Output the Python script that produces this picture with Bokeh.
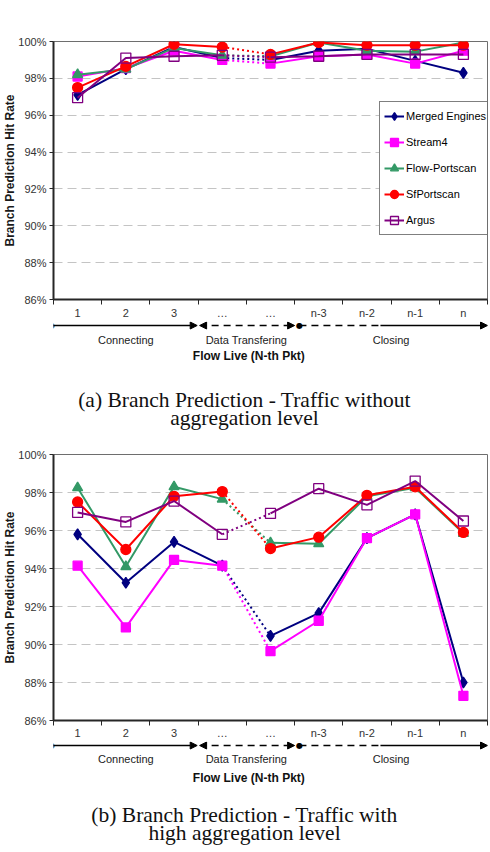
from bokeh.plotting import figure
from bokeh.layouts import column
from bokeh.models import (Range1d, FixedTicker, PrintfTickFormatter, Legend, LegendItem,
                          Label, Arrow, NormalHead)
from bokeh.core.properties import value
from bokeh.embed import file_html
from bokeh.resources import INLINE

# Packet positions along the life of a flow and their tick labels
positions = [1, 2, 3, 4, 5, 6, 7, 8, 9]
pkt_labels = ["1", "2", "3", "…", "…", "n-3", "n-2", "n-1", "n"]

# Flow phases and where their names sit on the packet axis
phases = ["Connecting", "Data Transfering", "Closing"]
phase_centers = [2, 4.5, 7.5]

y_ticks = [86, 88, 90, 92, 94, 96, 98, 100]

series_names = ["Merged Engines", "Stream4", "Flow-Portscan", "SfPortscan", "Argus"]

# (a) traffic without aggregation level -- branch prediction hit rate (%)
merged_a = [97.1, 98.5, 99.7, 99.1, 99.0, 99.5, 99.6, 98.95, 98.3]
stream4_a = [98.1, 98.55, 99.5, 99.0, 98.8, 99.2, 99.3, 98.8, 99.5]
flow_a = [98.2, 98.5, 99.65, 99.25, 99.2, 99.95, 99.5, 99.45, 99.95]
sf_a = [97.5, 98.65, 99.85, 99.7, 99.3, 99.95, 99.8, 99.8, 99.8]
argus_a = [96.95, 99.1, 99.2, 99.25, 99.15, 99.2, 99.3, 99.3, 99.3]

# (b) traffic with high aggregation level -- branch prediction hit rate (%)
merged_b = [95.8, 93.25, 95.4, 94.15, 90.45, 91.65, 95.6, 96.85, 88.0]
stream4_b = [94.15, 90.9, 94.45, 94.15, 89.65, 91.25, 95.6, 96.85, 87.3]
flow_b = [98.25, 94.1, 98.3, 97.65, 95.35, 95.3, 97.8, 98.25, 95.85]
sf_b = [97.5, 95.0, 97.8, 98.05, 95.05, 95.65, 97.85, 98.3, 95.9]
argus_b = [96.95, 96.45, 97.55, 95.8, 96.9, 98.2, 97.35, 98.6, 96.5]

caption_a = ["(a) Branch Prediction - Traffic without", "aggregation level"]
caption_b = ["(b) Branch Prediction - Traffic with", "high aggregation level"]

SANS = "Liberation Sans"
SERIF = "Liberation Serif"
AXIS_COLOR = "#262626"
FRAME_LEFT = 53
FRAME_RIGHT_PAD = 3

styles = [
    dict(color="#000080", marker="diamond", size=11, fill="#000080"),
    dict(color="#FF00FF", marker="square", size=9, fill="#FF00FF"),
    dict(color="#339966", marker="triangle", size=10, fill="#339966"),
    dict(color="#FF0000", marker="circle", size=10, fill="#FF0000"),
    dict(color="#800080", marker="square", size=10, fill=None),
]


def hit_rate_chart(series, height, frame_top, frame_h, label_standoff, with_legend):
    p = figure(width=490, height=height,
               x_range=Range1d(0.5, 9.5), y_range=Range1d(86, 100),
               min_border_left=FRAME_LEFT, min_border_right=FRAME_RIGHT_PAD,
               min_border_top=frame_top, min_border_bottom=height - frame_top - frame_h,
               output_backend="svg", toolbar_location=None, tools="")
    p.background_fill_color = "white"
    p.border_fill_color = "white"
    p.outline_line_color = "#6e6e6e"
    p.outline_line_width = 1

    p.xgrid.visible = False
    p.ygrid.ticker = FixedTicker(ticks=y_ticks[1:-1])
    p.ygrid.grid_line_color = "#c4c4c4"
    p.ygrid.grid_line_dash = "9 5"
    p.ygrid.grid_line_width = 1

    ya = p.yaxis[0]
    ya.ticker = FixedTicker(ticks=y_ticks)
    ya.formatter = PrintfTickFormatter(format="%d%%")
    ya.major_label_text_font = SANS
    ya.major_label_text_font_size = "11px"
    ya.major_label_text_color = "#333333"
    ya.major_label_standoff = 3
    ya.major_tick_out = 4
    ya.major_tick_in = 0
    ya.major_tick_line_color = AXIS_COLOR
    ya.minor_tick_line_color = None
    ya.axis_line_color = AXIS_COLOR
    ya.axis_line_width = 2
    ya.axis_label = "Branch Prediction Hit Rate"
    ya.axis_label_text_font = SANS
    ya.axis_label_text_font_style = "bold"
    ya.axis_label_text_font_size = "12px"
    ya.axis_label_text_color = "#1a1a1a"
    ya.axis_label_standoff = -2

    xa = p.xaxis[0]
    xa.ticker = FixedTicker(ticks=positions,
                            minor_ticks=[x - 0.5 for x in positions] + [positions[-1] + 0.5])
    xa.major_label_overrides = dict(zip(positions, pkt_labels))
    xa.major_label_text_font = SANS
    xa.major_label_text_font_size = "11px"
    xa.major_label_text_color = "#333333"
    xa.major_label_standoff = label_standoff
    xa.major_tick_line_color = None
    xa.major_tick_out = 0
    xa.major_tick_in = 0
    xa.minor_tick_out = 5
    xa.minor_tick_in = 0
    xa.minor_tick_line_color = AXIS_COLOR
    xa.axis_line_color = AXIS_COLOR
    xa.axis_line_width = 2

    items = []
    for name, ys, st in zip(series_names, series, styles):
        # connection phase solid, the gap over the transfer phase dotted, then solid again
        first = p.line(positions[:4], ys[:4], line_color=st["color"], line_width=2)
        p.line(positions[3:5], ys[3:5], line_color=st["color"], line_width=2, line_dash="2 3")
        p.line(positions[4:], ys[4:], line_color=st["color"], line_width=2)
        pts = p.scatter(positions, ys, marker=st["marker"], size=st["size"],
                        fill_color=st["fill"], line_color=st["color"], line_width=1.3)
        items.append(LegendItem(label=name, renderers=[first, pts]))

    if with_legend:
        frame_w = 490 - FRAME_LEFT - FRAME_RIGHT_PAD
        lg = Legend(items=items, location=(frame_w - 108, 64), orientation="vertical",
                    padding=4, margin=0, spacing=6, label_standoff=2,
                    glyph_width=20, glyph_height=20, label_height=20,
                    label_text_font=SANS, label_text_font_size="11px",
                    label_text_color="black",
                    border_line_color="black", border_line_width=1,
                    background_fill_color="white", background_fill_alpha=1)
        p.add_layout(lg)
    return p


def flow_timeline(chart, height, arrow_y, phase_y, title_y, cap_y, caption):
    t = figure(width=490, height=height,
               x_range=chart.x_range, y_range=Range1d(height, 0),
               min_border_left=FRAME_LEFT, min_border_right=FRAME_RIGHT_PAD,
               min_border_top=0, min_border_bottom=0,
               x_axis_type=None, y_axis_type=None,
               output_backend="svg", toolbar_location=None, tools="")
    t.outline_line_color = None
    t.background_fill_color = "white"
    t.border_fill_color = "white"

    def head():
        return NormalHead(size=7, fill_color="black", line_color="black", line_width=1)

    # connecting: solid arrow
    t.add_layout(Arrow(x_start=0.46, y_start=arrow_y, x_end=3.48, y_end=arrow_y,
                       start=None, end=head(), line_color="black", line_width=1.5))
    # data transfer: dashed double-headed arrow
    t.add_layout(Arrow(x_start=3.53, y_start=arrow_y, x_end=5.5, y_end=arrow_y,
                       start=head(), end=head(), line_color="black", line_width=1.5,
                       line_dash="7 5"))
    # closing: dashed, then solid arrow to the last packet
    t.line([5.6, 7.28], [arrow_y, arrow_y], line_color="black", line_width=1.5, line_dash="7 5")
    t.add_layout(Arrow(x_start=7.28, y_start=arrow_y, x_end=9.5, y_end=arrow_y,
                       start=None, end=head(), line_color="black", line_width=1.5))
    # start markers of the connecting and closing phases
    for dx in (0.46, 5.6):
        t.add_layout(Label(x=dx, y=arrow_y, text="●", text_font="DejaVu Sans",
                           text_font_size="8px", text_color="black",
                           text_align="center", text_baseline="middle"))

    t.text(x=phase_centers, y=[phase_y] * len(phases), text=phases,
           text_font=value(SANS), text_font_size="11px", text_color="#222222",
           text_align="center", text_baseline="middle")
    t.text(x=[4.55], y=[title_y], text=["Flow Live (N-th Pkt)"],
           text_font=value(SANS), text_font_size="12px", text_font_style="bold",
           text_color="#111111", text_align="center", text_baseline="middle")

    for line, cy in zip(caption, cap_y):
        t.add_layout(Label(x=244 - FRAME_LEFT, y=cy, x_units="screen", y_units="data",
                           text=line, text_font=SERIF, text_font_size="21.5px",
                           text_color="#111111", text_align="center", text_baseline="middle"))
    return t


chart_a = hit_rate_chart([merged_a, stream4_a, flow_a, sf_a, argus_a],
                         height=321, frame_top=41, frame_h=258,
                         label_standoff=2, with_legend=True)
line_a = flow_timeline(chart_a, height=119, arrow_y=4, phase_y=18, title_y=34,
                       cap_y=[78, 96], caption=caption_a)

chart_b = hit_rate_chart([merged_b, stream4_b, flow_b, sf_b, argus_b],
                         height=301, frame_top=14, frame_h=266,
                         label_standoff=1, with_legend=False)
line_b = flow_timeline(chart_b, height=111, arrow_y=4, phase_y=17, title_y=36,
                       cap_y=[73, 91], caption=caption_b)

layout = column(chart_a, line_a, chart_b, line_b, spacing=0)

open("out.html", "w").write(file_html(layout, INLINE))
